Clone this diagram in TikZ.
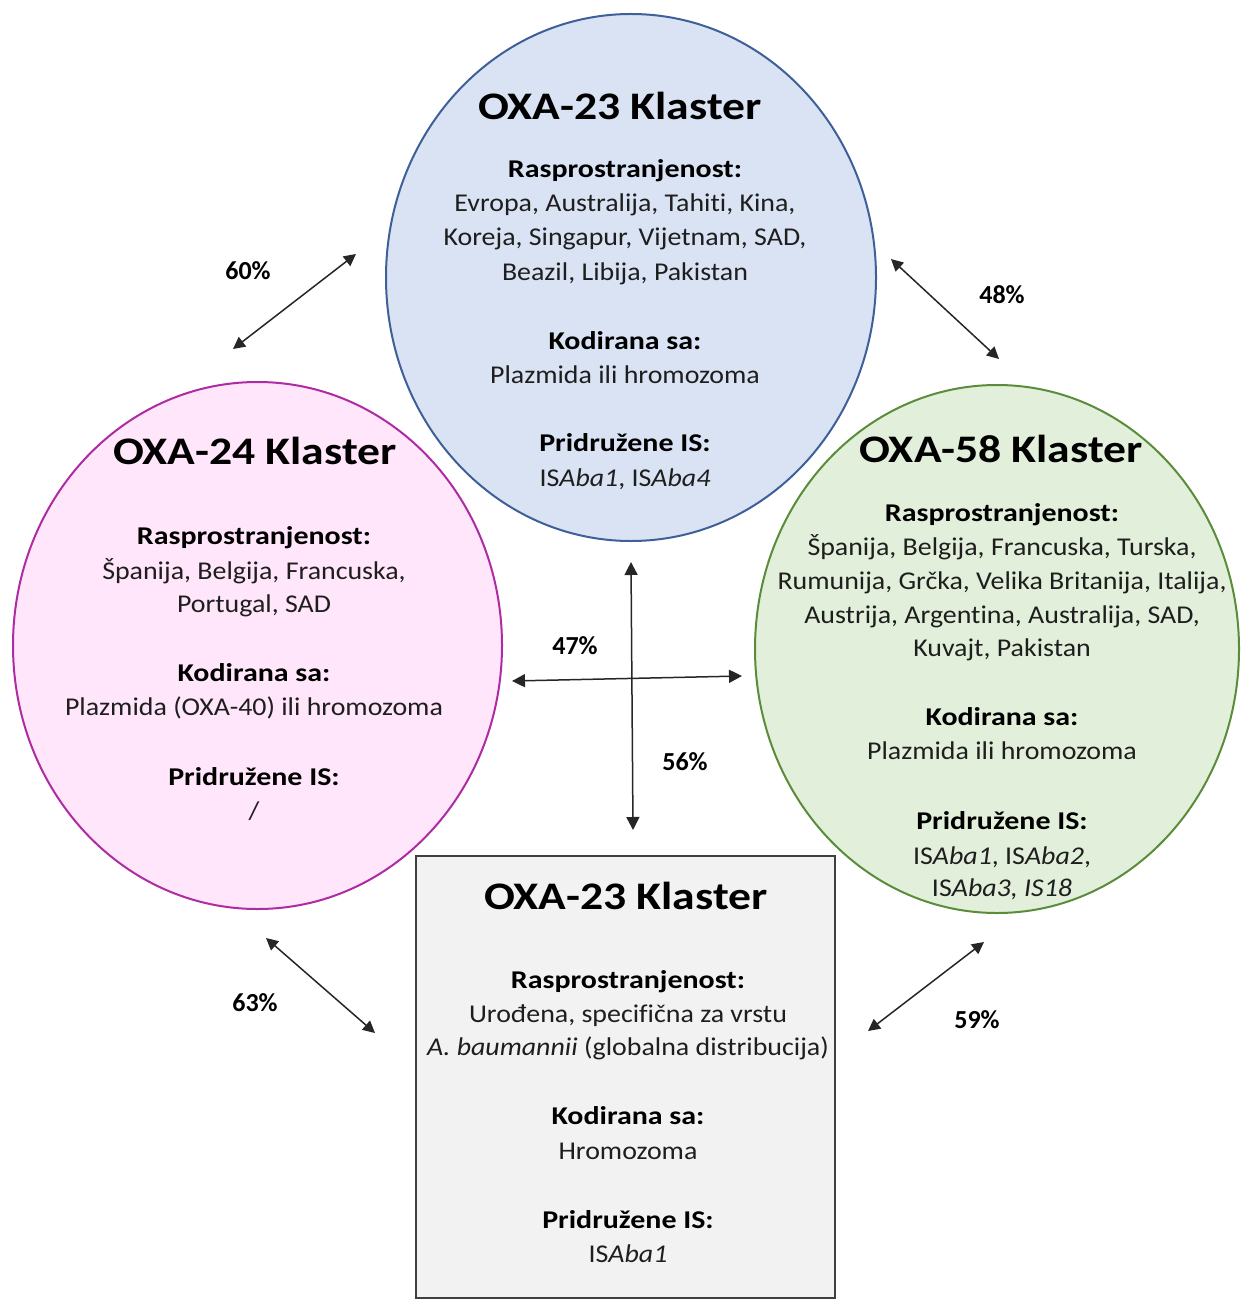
\documentclass[tikz,border=0pt]{standalone}
\usepackage{fontspec}
\setmainfont{Carlito}[Ligatures=NoCommon]
\newfontfamily\bodyf{Carlito}[Ligatures=NoCommon, FakeStretch=1.09]
\newfontfamily\boldf{Carlito}[Ligatures=NoCommon, FakeStretch=1.17]
\newfontfamily\pctf{Carlito}[Ligatures=NoCommon]
\usetikzlibrary{arrows.meta,shapes.geometric}
\definecolor{bluefill}{HTML}{DAE3F3}
\definecolor{blueline}{HTML}{3E5F98}
\definecolor{pinkfill}{HTML}{FFE6FA}
\definecolor{pinkline}{HTML}{AE2BA3}
\definecolor{greenfill}{HTML}{E2EFDA}
\definecolor{greenline}{HTML}{5B8C3A}
\definecolor{boxfill}{HTML}{F2F2F2}
\definecolor{boxline}{HTML}{3F3F3F}
\definecolor{bodytext}{HTML}{1E1E1E}
\tikzset{
  title/.style={anchor=base, inner sep=0pt, font=\boldf\fontsize{19.5}{23}\selectfont\bfseries, text=black},
  head/.style={anchor=base, inner sep=0pt, font=\boldf\fontsize{12.8}{17}\selectfont\bfseries, text=black},
  body/.style={anchor=base, inner sep=0pt, font=\bodyf\fontsize{12.8}{17}\selectfont, text=bodytext},
  pct/.style={anchor=base, inner sep=0pt, font=\pctf\fontsize{13}{16}\selectfont\bfseries, text=black},
  cluster/.style={ellipse, inner sep=0pt, line width=1pt},
  dbl/.style={line width=0.75pt, draw=black!85, {Triangle[length=6.5pt,width=6.5pt]}-{Triangle[length=6.5pt,width=6.5pt]}},
  dbls/.style={line width=0.75pt, draw=black!85, {Triangle[length=6pt,width=6pt]}-{Triangle[length=6pt,width=6pt]}}
}
\begin{document}
\begin{tikzpicture}[x=0.5pt,y=-0.5pt]
\useasboundingbox (0,0) rectangle (1241,1300);
% shapes
\node[cluster, draw=blueline, fill=bluefill, minimum width=245pt, minimum height=263.5pt] (blue) at (631,277.5) {};
\node[cluster, draw=pinkline, fill=pinkfill, minimum width=244.5pt, minimum height=263.5pt] (pink) at (257.5,645.5) {};
\node[cluster, draw=greenline, fill=greenfill, minimum width=242pt, minimum height=264pt] (green) at (997,649) {};
\node[rectangle, draw=boxline, fill=boxfill, line width=1.2pt, minimum width=209.5pt, minimum height=221pt, inner sep=0pt] (box) at (625.5,1077) {};

% blue texts
\node[title] (b0) at (620,120) {OXA-23 Klaster};
\node[head] (b1) at (625,178) {Rasprostranjenost:};
\node[body] (b2) at (625,212) {Evropa, Australija, Tahiti, Kina,};
\node[body] (b3) at (625,246) {Koreja, Singapur, Vijetnam, SAD,};
\node[body] (b4) at (625,280) {Beazil, Libija, Pakistan};
\node[head] (b5) at (625,349) {Kodirana sa:};
\node[body] (b6) at (625,383) {Plazmida ili hromozoma};
\node[head] (b7) at (625,451) {Pridružene IS:};
\node[body] (b8) at (625,486) {IS\textit{Aba1}, IS\textit{Aba4}};

% pink texts
\node[title] (p0) at (255,464) {OXA-24 Klaster};
\node[head] (p1) at (254,544) {Rasprostranjenost:};
\node[body] (p2) at (254,579) {Španija, Belgija, Francuska,};
\node[body] (p3) at (254,612) {Portugal, SAD};
\node[head] (p4) at (254,681) {Kodirana sa:};
\node[body] (p5) at (254,715) {Plazmida (OXA-40) ili hromozoma};
\node[head] (p6) at (254,785) {Pridružene IS:};
\node[body] (p7) at (254,819) {/};

% green texts
\node[title] (g0) at (1001,462) {OXA-58 Klaster};
\node[head] (g1) at (1002,521) {Rasprostranjenost:};
\node[body] (g2) at (1002,555) {Španija, Belgija, Francuska, Turska,};
\node[body] (g3) at (1002,589) {Rumunija, Grčka, Velika Britanija, Italija,};
\node[body] (g4) at (1002,623) {Austrija, Argentina, Australija, SAD,};
\node[body] (g5) at (1002,656) {Kuvajt, Pakistan};
\node[head] (g6) at (1002,725) {Kodirana sa:};
\node[body] (g7) at (1002,759) {Plazmida ili hromozoma};
\node[head] (g8) at (1002,829) {Pridružene IS:};
\node[body] (g9) at (1002,864) {IS\textit{Aba1}, IS\textit{Aba2},};
\node[body] (g10) at (1002,896) {IS\textit{Aba3, IS18}};

% box texts
\node[title] (x0) at (626,909) {OXA-23 Klaster};
\node[head] (x1) at (628,988) {Rasprostranjenost:};
\node[body] (x2) at (628,1022) {Urođena, specifična za vrstu};
\node[body] (x3) at (628,1055) {\textit{A. baumannii} (globalna distribucija)};
\node[head] (x4) at (628,1124) {Kodirana sa:};
\node[body] (x5) at (628,1159) {Hromozoma};
\node[head] (x6) at (628,1228) {Pridružene IS:};
\node[body] (x7) at (628,1262) {IS\textit{Aba1}};

% arrows
\coordinate (a1s) at (233,349); \coordinate (a1e) at (356,254);
\coordinate (a2s) at (891,259); \coordinate (a2e) at (999,359);
\coordinate (a3s) at (631,562); \coordinate (a3e) at (633,830);
\coordinate (a4s) at (512,681); \coordinate (a4e) at (742,676);
\coordinate (a5s) at (266,938); \coordinate (a5e) at (375,1033);
\coordinate (a6s) at (868,1031); \coordinate (a6e) at (984,942);
\draw[dbls] (a1s) -- (a1e);
\draw[dbls] (a2s) -- (a2e);
\draw[dbl] (a3s) -- (a3e);
\draw[dbl] (a4s) -- (a4e);
\draw[dbls] (a5s) -- (a5e);
\draw[dbls] (a6s) -- (a6e);

% percentages
\node[pct] (l1) at (248,279) {60\%};
\node[pct] (l2) at (1002,303) {48\%};
\node[pct] (l3) at (575,654) {47\%};
\node[pct] (l4) at (685,770) {56\%};
\node[pct] (l5) at (255,1011) {63\%};
\node[pct] (l6) at (977,1028) {59\%};
\end{tikzpicture}
\end{document}
